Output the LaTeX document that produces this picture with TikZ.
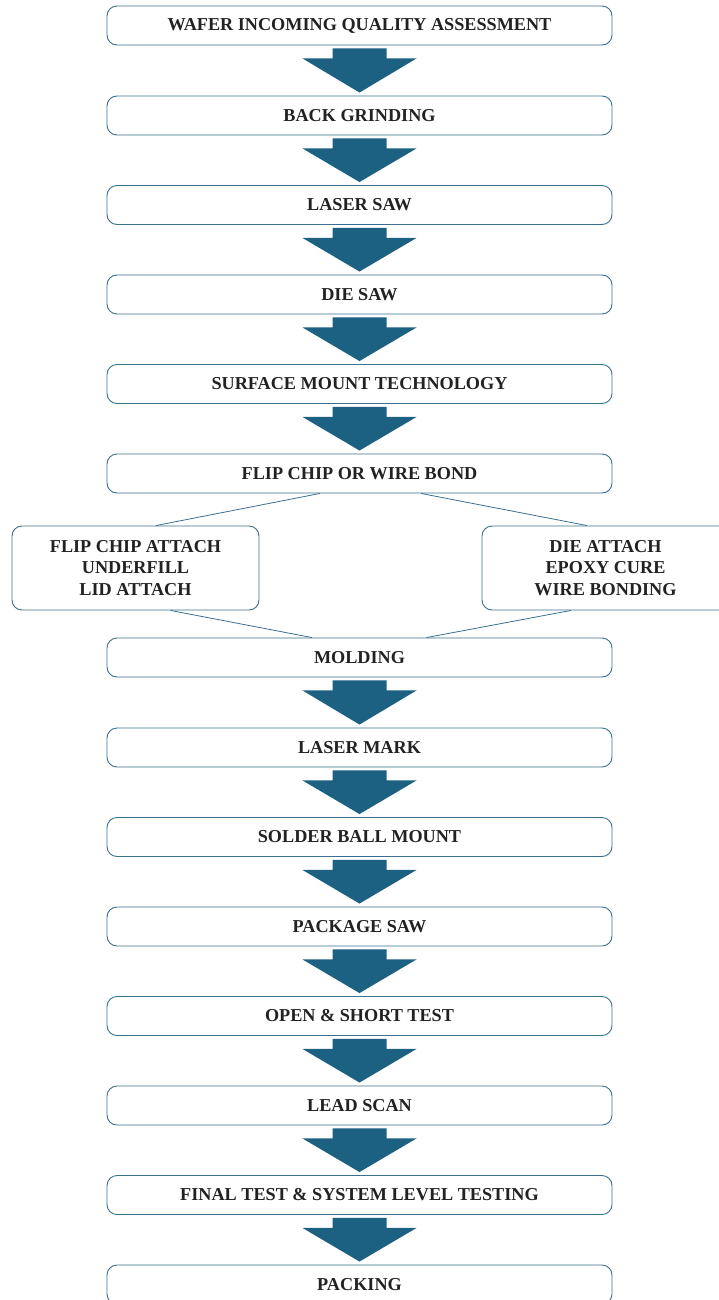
\documentclass[tikz,border=0pt]{standalone}
\usepackage{fontspec}
\setmainfont{Liberation Serif}
\usetikzlibrary{calc}

\definecolor{boxline}{RGB}{58,112,142}
\definecolor{arrowfill}{RGB}{28,96,130}
\definecolor{textdark}{RGB}{34,34,34}

\tikzset{
	stepbox/.style={draw=boxline, line width=0.9pt, rounded corners=10pt, fill=white,
		minimum width=505pt, minimum height=39pt, inner sep=0pt,
		text=textdark, font=\fontsize{18.2}{21.5}\selectfont\bfseries},
	sidebox/.style={stepbox, minimum width=247pt, minimum height=84pt, align=center},
	splitline/.style={draw=boxline, line width=0.8pt}
}

% block arrow from the bottom of one box to the top of the next
\newcommand{\blockarrow}[2]{%
	\fill[arrowfill] ($(#1.south)+(-27,3)$) -- ($(#1.south)+(27,3)$)
	-- ($(#1.south)+(27,13)$) -- ($(#1.south)+(57,13)$)
	-- ($(#2.north)+(0,-3)$)
	-- ($(#1.south)+(-57,13)$) -- ($(#1.south)+(-27,13)$) -- cycle;}

\begin{document}
\begin{tikzpicture}[x=1pt, y=-1pt, line join=round]
	
	\useasboundingbox (0,0) rectangle (719,1300);
	
	% --- Upper chain of process steps ---
	\node[stepbox] (wafer)  at (359.5,25.5)  {WAFER INCOMING QUALITY ASSESSMENT};
	\node[stepbox] (grind)  at (359.5,115.5) {BACK GRINDING};
	\node[stepbox] (laser)  at (359.5,205)   {LASER SAW};
	\node[stepbox] (diesaw) at (359.5,294.5) {DIE SAW};
	\node[stepbox] (smt)    at (359.5,384)   {SURFACE MOUNT TECHNOLOGY};
	\node[stepbox] (flip)   at (359.5,473.5) {FLIP CHIP OR WIRE BOND};
	
	% --- The two branches ---
	\node[sidebox] (fca) at (135.5,568) {FLIP CHIP ATTACH\\UNDERFILL\\LID ATTACH};
	\node[sidebox] (wb)  at (605.5,568) {DIE ATTACH\\EPOXY CURE\\WIRE BONDING};
	
	% --- Lower chain of process steps ---
	\node[stepbox] (molding) at (359.5,657.5)  {MOLDING};
	\node[stepbox] (mark)    at (359.5,747.5)  {LASER MARK};
	\node[stepbox] (solder)  at (359.5,837)    {SOLDER BALL MOUNT};
	\node[stepbox] (pkgsaw)  at (359.5,926.5)  {PACKAGE SAW};
	\node[stepbox] (open)    at (359.5,1016)   {OPEN \& SHORT TEST};
	\node[stepbox] (lead)    at (359.5,1105.5) {LEAD SCAN};
	\node[stepbox] (final)   at (359.5,1195)   {FINAL TEST \& SYSTEM LEVEL TESTING};
	\node[stepbox] (packing) at (359.5,1284.5) {PACKING};
	
	% --- Block arrows between consecutive steps ---
	\foreach \a/\b in {wafer/grind, grind/laser, laser/diesaw, diesaw/smt, smt/flip,
		molding/mark, mark/solder, solder/pkgsaw, pkgsaw/open, open/lead,
		lead/final, final/packing}
	\blockarrow{\a}{\b};
	
	% --- Split and merge lines ---
	\draw[splitline] ($(flip.south)+(-39.5,0)$) -- ($(fca.north)+(20.5,0)$);
	\draw[splitline] ($(flip.south)+(61.5,0)$) -- ($(wb.north)+(-18.5,0)$);
	\draw[splitline] ($(fca.south)+(35,0)$) -- ($(molding.north)+(-47.5,0)$);
	\draw[splitline] ($(wb.south)+(-34.5,0)$) -- ($(molding.north)+(67,0)$);
	
\end{tikzpicture}
\end{document}
